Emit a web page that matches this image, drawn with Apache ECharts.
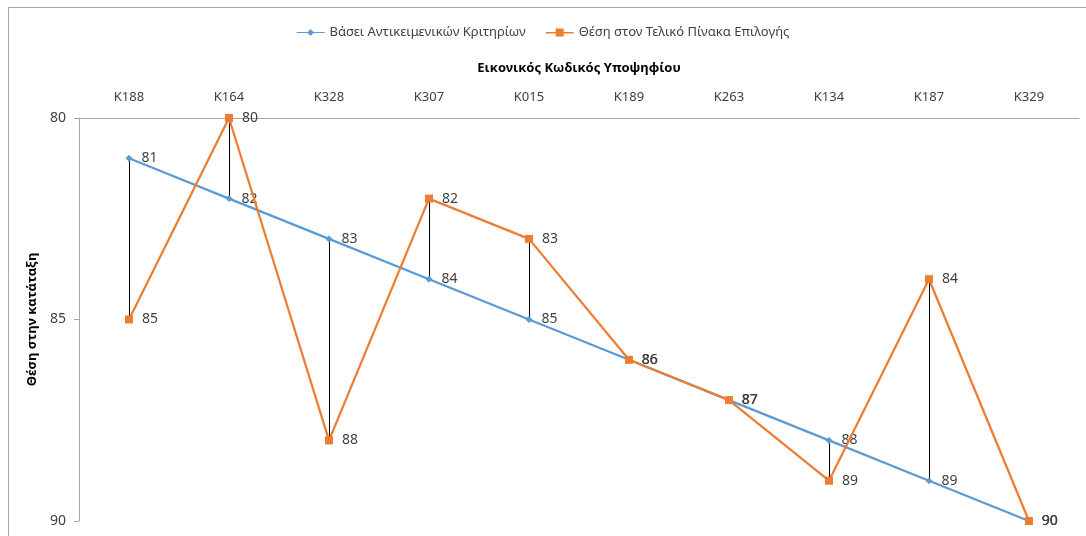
<!DOCTYPE html>
<html><head><meta charset="utf-8">
<script src="https://cdn.jsdelivr.net/npm/echarts@6/dist/echarts.min.js"></script>
<style>html,body{margin:0;padding:0;background:#fff}#c{width:1086px;height:536px}</style>
</head><body><div id="c"></div>
<script>
const categories = ['K188','K164','K328','K307','K015','K189','K263','K134','K187','K329'];
const objectiveRank = [81,82,83,84,85,86,87,88,89,90];
const finalRank = [85,80,88,82,83,86,87,89,84,90];
const seriesNames = ['Βάσει Αντικειμενικών Κριτηρίων','Θέση στον Τελικό Πίνακα Επιλογής'];
const yTicks = {min:80, max:90, interval:5};

const font = '"Noto Sans", "Open Sans", sans-serif';
const chart = echarts.init(document.getElementById('c'), null, {renderer:'canvas'});
const hiLo = categories.map((c,i)=>[i, objectiveRank[i], finalRank[i]]);
chart.setOption({
  animation:false,
  backgroundColor:'#fff',
  textStyle:{fontFamily:font},
  graphic:[{type:'rect',shape:{x:8.5,y:7.5,width:1200,height:700},style:{fill:'none',stroke:'#a6a6a6',lineWidth:1},silent:true,z:-10}],
  legend:{
    top:21, left:'center', itemGap:20, itemWidth:28, itemHeight:8,
    textStyle:{fontFamily:font, fontSize:13, color:'#404040'},
    data:[{name:seriesNames[0], icon:'path://M0,4 L11,4 L14,1 L17,4 L28,4 L28,5 L17,5 L14,8 L11,5 L0,5 Z'},
          {name:seriesNames[1], icon:'path://M0,3.5 L10,3.5 L10,0 L18,0 L18,3.5 L28,3.5 L28,5 L18,5 L18,8 L10,8 L10,5 L0,5 Z'}]
  },
  grid:{left:79, right:7, top:118, bottom:15, containLabel:false},
  xAxis:{
    type:'category', data:categories, position:'top', boundaryGap:true,
    name:'Εικονικός Κωδικός Υποψηφίου', nameLocation:'middle', nameGap:43,
    nameTextStyle:{fontFamily:font, fontSize:13, fontWeight:'bold', color:'#000'},
    axisLine:{show:true, lineStyle:{color:'#a6a6a6', width:1}},
    axisTick:{show:false},
    axisLabel:{margin:14, fontSize:13, color:'#404040', fontFamily:font},
    splitLine:{show:false}
  },
  yAxis:{
    type:'value', inverse:true, min:yTicks.min, max:yTicks.max, interval:yTicks.interval,
    name:'Θέση στην κατάταξη', nameLocation:'middle', nameGap:30, nameRotate:90,
    nameTextStyle:{fontFamily:font, fontSize:13, fontWeight:'bold', color:'#000'},
    axisLine:{show:true, lineStyle:{color:'#a6a6a6', width:1}},
    axisTick:{show:true, inside:false, length:5, lineStyle:{color:'#a6a6a6'}},
    axisLabel:{margin:13, fontSize:14, color:'#404040', fontFamily:font},
    splitLine:{show:false}
  },
  series:[
    {
      type:'custom', name:'hilo', data:hiLo, z:1, silent:true,
      encode:{x:0, y:[1,2]},
      renderItem:function(params, api){
        const p1 = api.coord([api.value(0), api.value(1)]);
        const p2 = api.coord([api.value(0), api.value(2)]);
        return {type:'line', shape:{x1:Math.round(p1[0])+0.5,y1:p1[1],x2:Math.round(p2[0])+0.5,y2:p2[1]}, style:{stroke:'#000', lineWidth:1}};
      }
    },
    {
      type:'line', name:seriesNames[0], data:objectiveRank, z:2,
      symbol:'diamond', symbolSize:7, showAllSymbol:true,
      lineStyle:{color:'#5B9BD5', width:2.25}, itemStyle:{color:'#5B9BD5'},
      label:{show:true, position:'right', distance:9, fontSize:14, color:'#404040', fontFamily:font}
    },
    {
      type:'line', name:seriesNames[1], data:finalRank, z:3,
      symbol:'rect', symbolSize:8, showAllSymbol:true,
      lineStyle:{color:'#ED7D31', width:2.25}, itemStyle:{color:'#ED7D31'},
      label:{show:true, position:'right', distance:9, fontSize:14, color:'#404040', fontFamily:font}
    }
  ]
});
</script></body></html>
